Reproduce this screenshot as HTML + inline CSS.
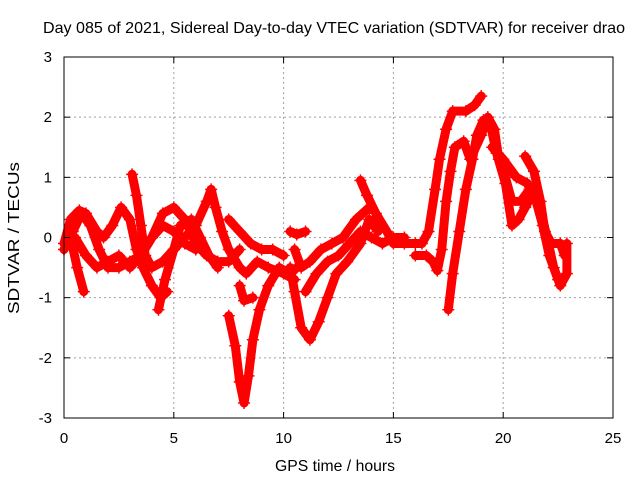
<!DOCTYPE html>
<html><head><meta charset="utf-8"><style>
html,body{margin:0;padding:0;background:#fff;}
svg{display:block;font-family:"Liberation Sans",sans-serif;}
</style></head><body>
<svg id="chart" width="640" height="480" viewBox="0 0 640 480" xmlns="http://www.w3.org/2000/svg">
<text x="334" y="33" font-size="16" text-anchor="middle" fill="#000" textLength="582" lengthAdjust="spacingAndGlyphs">Day 085 of 2021, Sidereal Day-to-day VTEC variation (SDTVAR) for receiver drao</text>
<g id="grid"></g>
<g id="series"></g>
<rect x="64" y="57" width="549" height="361" fill="none" stroke="#000" stroke-width="1"/>
<g id="ticks"></g>
<text x="335" y="471" font-size="16" text-anchor="middle" textLength="120" lengthAdjust="spacingAndGlyphs">GPS time / hours</text>
<text transform="translate(19,238) rotate(-90)" font-size="16" text-anchor="middle" textLength="152" lengthAdjust="spacingAndGlyphs">SDTVAR / TECUs</text>
</svg>
<script>
const xTicks = [0, 5, 10, 15, 20, 25];
const yTicks = [-3, -2, -1, 0, 1, 2, 3];
const track1 = [[0,-0.1],[0.3,0.3],[0.7,0.45],[1,0.4],[1.5,0.1],[1.8,0],[2.2,0.2],[2.6,0.5],[3,0.3],[3.3,-0.2],[3.6,-0.5],[4,-0.8],[4.4,-1.0],[4.7,-0.9]];
const track2 = [[0,-0.2],[0.4,0.1],[0.8,0.4],[1.2,0.2],[1.6,-0.2],[2,-0.5],[2.5,-0.5],[3,-0.4],[3.5,-0.3],[4,0],[4.5,0.4],[5,0.5],[5.5,0.3],[6,-0.1],[6.5,-0.3],[7,-0.4],[7.5,-0.4],[8,-0.2]];
const track3 = [[0.5,0],[1,-0.3],[1.5,-0.5],[2,-0.4],[2.5,-0.3],[3,-0.5],[3.5,-0.3],[4,0],[4.5,0.2],[5,0.1],[5.5,-0.1],[6,-0.2]];
const track4 = [[0.3,0],[0.6,-0.5],[0.9,-0.9]];
const track5 = [[3.1,1.05],[3.3,0.7],[3.5,0.2],[3.7,-0.3],[4,-0.5],[4.5,-0.4],[5,-0.2],[5.5,0],[6,0.2],[6.5,0.6],[6.7,0.8],[6.9,0.5],[7.2,0.1],[7.5,-0.2],[8,-0.5],[8.3,-0.6],[8.8,-0.4],[9.3,-0.5],[10,-0.6],[10.5,-0.7]];
const track6 = [[4.3,-1.2],[4.6,-0.7],[5,-0.2],[5.3,0.2],[5.8,0.3],[6.2,0],[6.6,-0.3],[7,-0.5]];
const track7 = [[7.5,0.3],[8,0.1],[8.5,-0.1],[9,-0.2],[9.5,-0.2],[10,-0.3]];
const track8 = [[7.5,-1.3],[7.8,-1.8],[8,-2.4],[8.2,-2.75],[8.4,-2.3],[8.6,-1.7],[8.9,-1.2],[9.3,-0.8],[9.8,-0.5],[10.3,-0.6],[10.6,-0.5]];
const track9 = [[8,-0.8],[8.2,-1.05],[8.6,-1.0]];
const track10 = [[10.3,0.1],[10.6,0.05],[11,0.1]];
const track11 = [[10.3,-0.5],[10.5,-0.9],[10.8,-1.5],[11.2,-1.7],[11.6,-1.4],[12,-1.0],[12.4,-0.6],[12.9,-0.4],[13.5,-0.1],[13.9,0.3],[14.3,0.1]];
const track12 = [[10.5,-0.2],[10.8,-0.5],[11.2,-0.4],[11.7,-0.2],[12.2,-0.1],[12.7,0],[13.3,0.3],[13.9,0.5]];
const track13 = [[11,-0.9],[11.5,-0.6],[12,-0.4],[12.5,-0.3],[13,-0.1],[13.5,0.1],[14,0],[14.5,-0.1],[15,0],[15.5,0]];
const track14 = [[13.5,0.95],[13.8,0.7],[14.2,0.4],[14.7,0.1],[15,-0.1],[15.5,-0.1],[16,-0.1],[16.3,-0.1],[16.6,0.1],[16.9,0.8],[17.1,1.3],[17.4,1.8],[17.7,2.1],[18.3,2.1],[18.7,2.2],[19.0,2.35]];
const track15 = [[16,-0.3],[16.5,-0.3],[16.8,-0.4],[17,-0.55],[17.2,-0.2],[17.4,0.6],[17.6,1.1],[17.8,1.5],[18.2,1.6],[18.5,1.3],[19,1.7],[19.3,2.0],[19.6,1.8],[19.8,1.3],[20.1,1.0],[20.4,0.6],[20.8,0.6],[21.2,0.8]];
const track16 = [[17.5,-1.2],[17.7,-0.6],[18,0.1],[18.3,0.8],[18.6,1.3],[18.8,1.7],[19.1,1.95],[19.4,1.9],[19.7,1.4],[20.1,0.9],[20.4,0.2],[20.7,0.3],[21,0.5],[21.3,0.7],[21.6,0.6],[22,0],[22.3,-0.5],[22.6,-0.8],[22.9,-0.6],[22.9,-0.1]];
const track17 = [[19.5,1.5],[20,1.3],[20.6,1.0],[21.1,0.9],[21.5,0.6],[21.8,0.2],[22.1,-0.3],[22.5,-0.7],[22.7,-0.7]];
const track18 = [[21,1.35],[21.4,1.1],[21.7,0.6],[21.9,0.1],[22.2,-0.1],[22.6,-0.1],[22.8,-0.3]];
const tracks = [track1,track2,track3,track4,track5,track6,track7,track8,track9,track10,track11,track12,track13,track14,track15,track16,track17,track18];

const NS = "http://www.w3.org/2000/svg";
const X0 = 64, X1 = 613, Y0 = 418, Y1 = 57;
function xs(t){ return X0 + (t - 0) / 25 * (X1 - X0); }
function ys(v){ return Y0 - (v + 3) / 6 * (Y0 - Y1); }
function mk(tag, attrs, parent){
  const e = document.createElementNS(NS, tag);
  for (const k in attrs) e.setAttribute(k, attrs[k]);
  parent.appendChild(e);
  return e;
}
const grid = document.getElementById('grid');
const ticks = document.getElementById('ticks');
const series = document.getElementById('series');
xTicks.forEach(t => {
  const x = xs(t);
  if (t > 0 && t < 25) {
    const g = mk('line', {x1:x, x2:x, y1:Y1, y2:Y0, stroke:'#a0a0a0', 'stroke-dasharray':'2,3', 'stroke-width':1}, grid);
    
    
  }
  const tk = mk('line', {x1:x, x2:x, y1:Y0, y2:Y0-6, stroke:'#000'}, ticks);
  
  
  const tk2 = mk('line', {x1:x, x2:x, y1:Y1, y2:Y1+6, stroke:'#000'}, ticks);
  
  
  const lb = mk('text', {x:x, y:443, 'font-size':15, 'text-anchor':'middle'}, ticks);
  lb.textContent = t;
  
  
});
yTicks.forEach(v => {
  const y = ys(v);
  if (v > -3 && v < 3) {
    const g = mk('line', {x1:X0, x2:X1, y1:y, y2:y, stroke:'#a0a0a0', 'stroke-dasharray':'2,3', 'stroke-width':1}, grid);
    
    
  }
  const tk = mk('line', {x1:X0, x2:X0+6, y1:y, y2:y, stroke:'#000'}, ticks);
  
  
  const tk2 = mk('line', {x1:X1, x2:X1-6, y1:y, y2:y, stroke:'#000'}, ticks);
  
  
  const lb = mk('text', {x:52, y:y+5, 'font-size':15, 'text-anchor':'end'}, ticks);
  lb.textContent = v;
  
  
});
tracks.forEach(tr => {
  const pl = mk('polyline', {points: tr.map(p => xs(p[0]) + ',' + ys(p[1])).join(' '), fill:'none', stroke:'#ff0000', 'stroke-width':9, 'stroke-linejoin':'round', 'stroke-linecap':'round'}, series);
  
  
  tr.forEach(p => {
    const x = xs(p[0]), y = ys(p[1]);
    const m = mk('path', {d:`M${x-6},${y}H${x+6}M${x},${y-6}V${y+6}`, stroke:'#ff0000', 'stroke-width':1.5}, series);
    
    
  });
});
</script>
</body></html>
